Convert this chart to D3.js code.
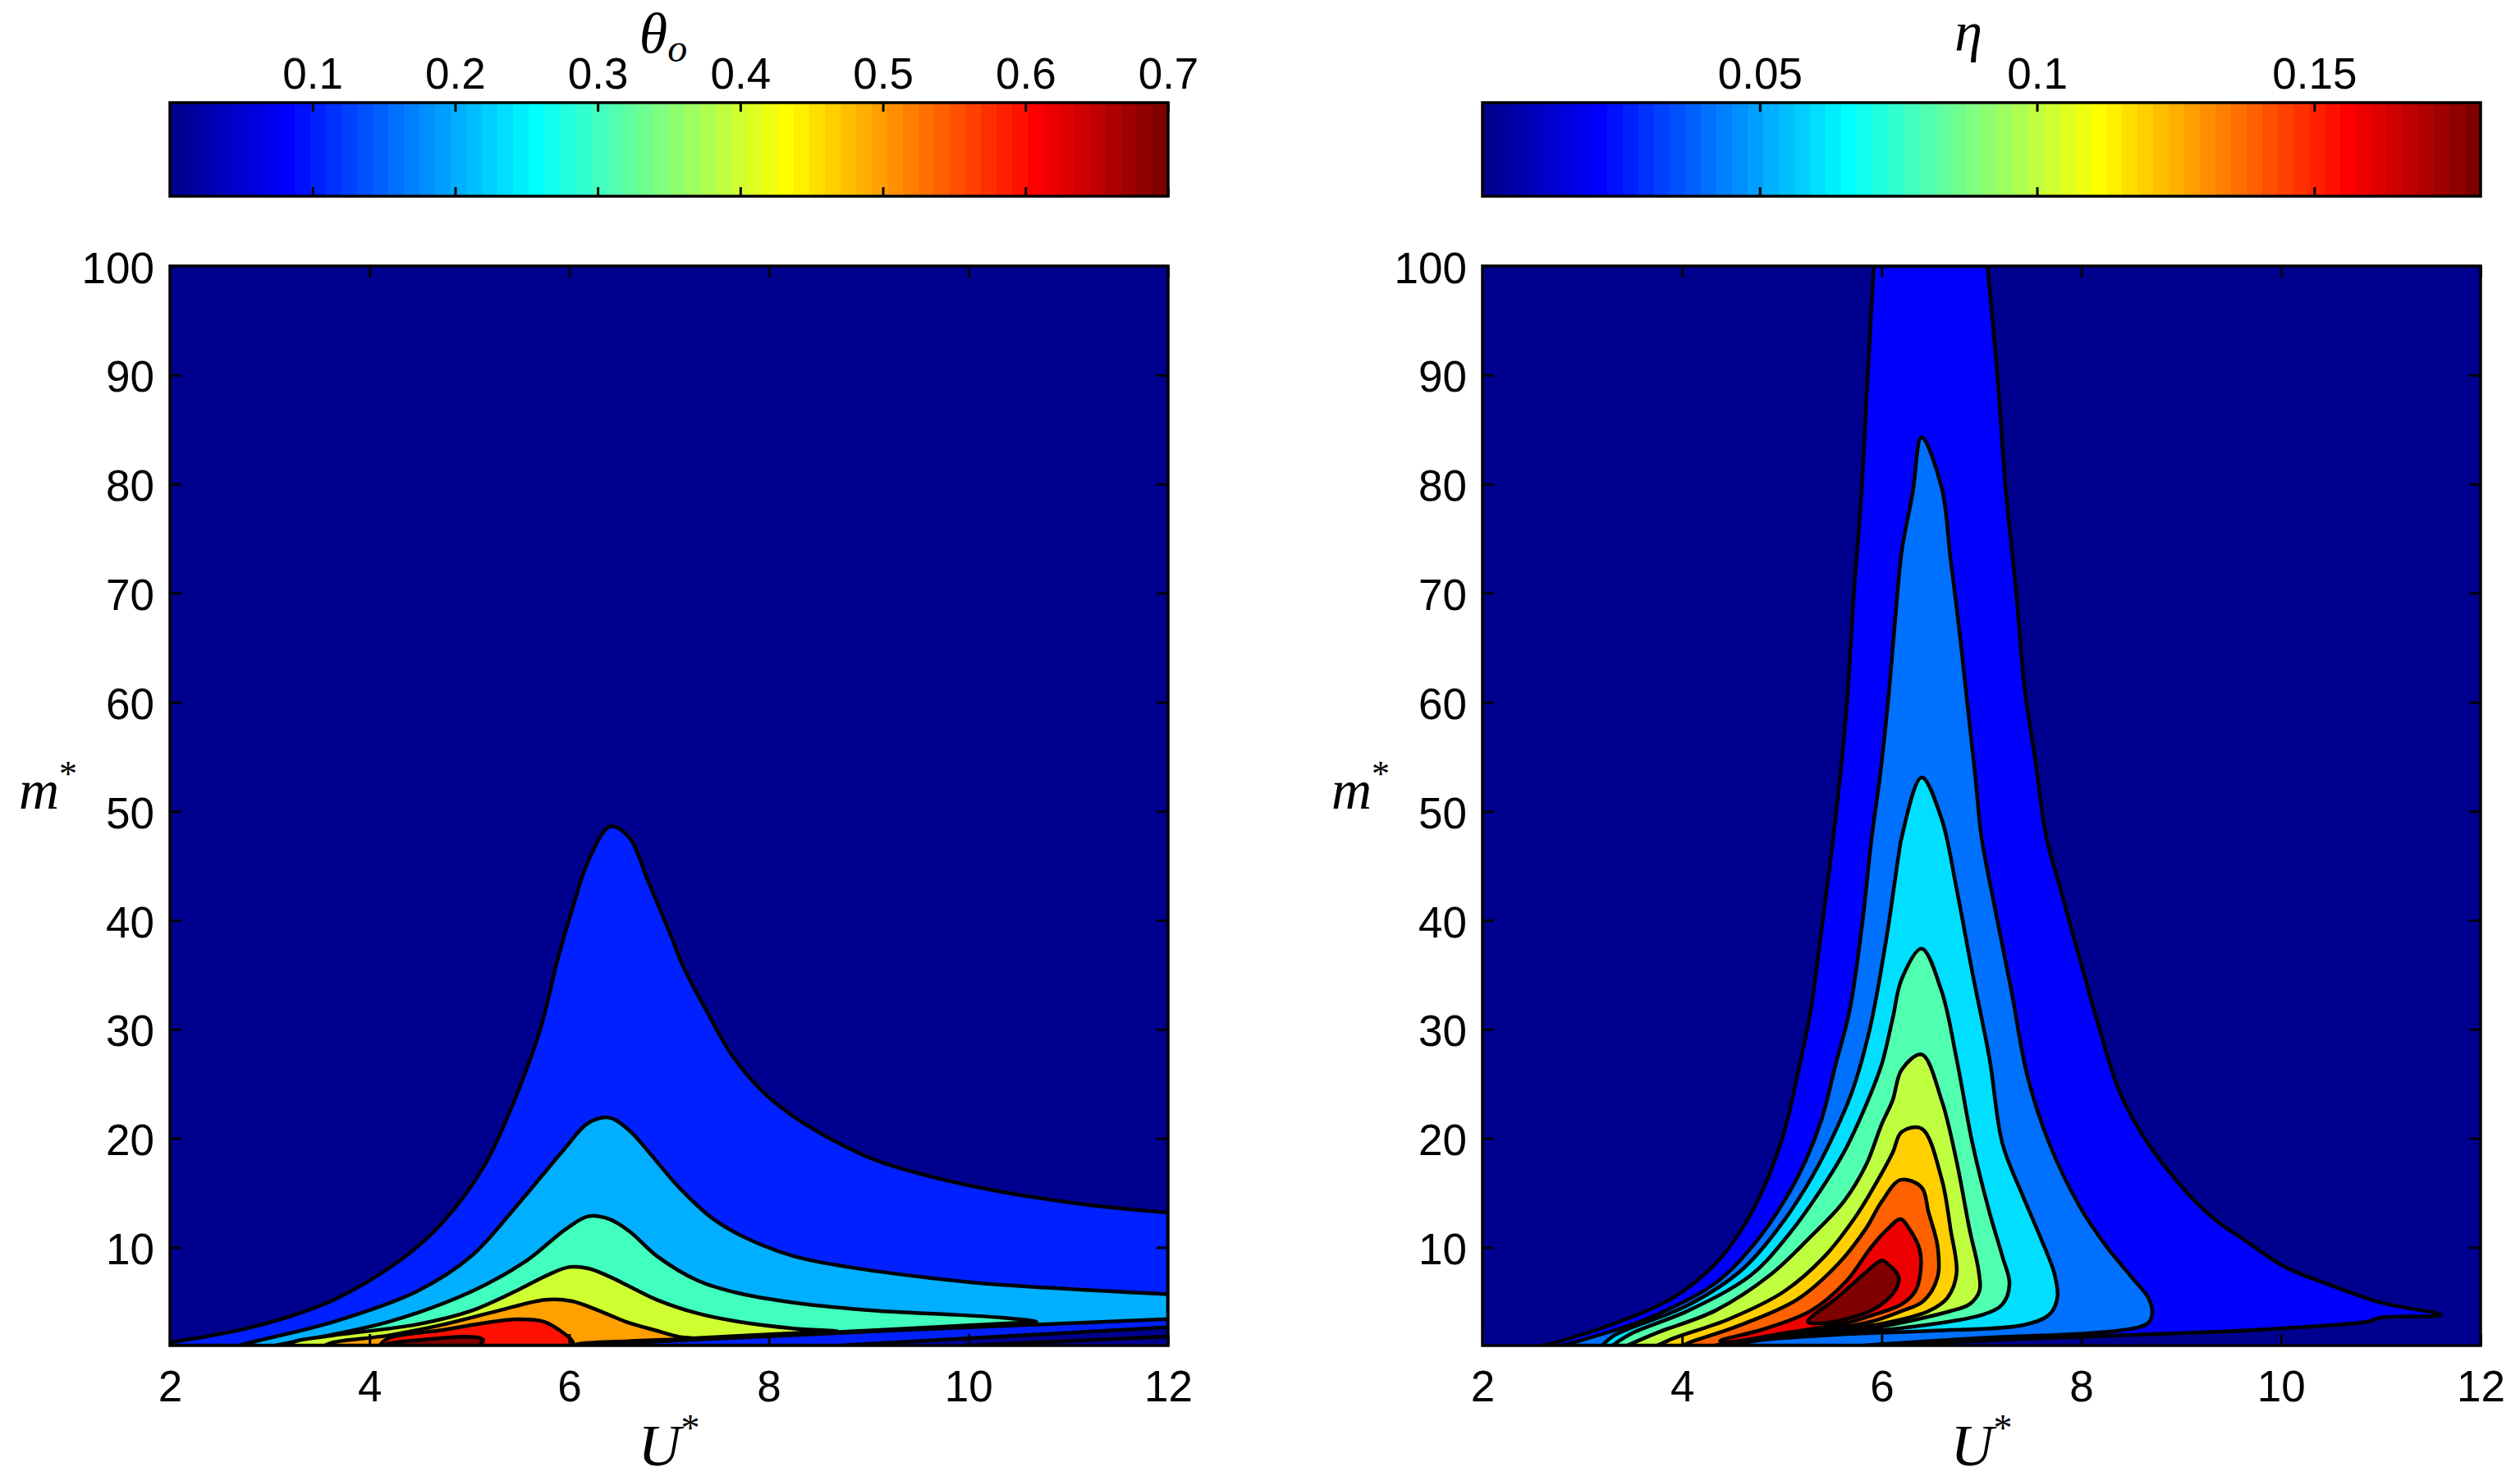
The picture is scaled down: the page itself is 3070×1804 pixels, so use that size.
<!DOCTYPE html>
<html>
<head>
<meta charset="utf-8">
<script src="https://cdn.jsdelivr.net/npm/d3@7"></script>
<style>
  body { margin: 0; background: #fff; }
  svg text { font-family: "Liberation Sans", Arial, sans-serif; }
  .math { font-family: "Liberation Serif", "Times New Roman", serif; font-style: italic; }
</style>
</head>
<body>
<svg id="fig" width="3070" height="1804"></svg>
<script>
// ---- axes / colorbar ticks ----
const xTicks = [2, 4, 6, 8, 10, 12];
const yTicks = [10, 20, 30, 40, 50, 60, 70, 80, 90, 100];
const thetaBarTicks = [0.1, 0.2, 0.3, 0.4, 0.5, 0.6, 0.7];
const etaBarTicks = [0.05, 0.1, 0.15];

// ---- contour levels ----
const thetaLevels = [0.1, 0.2, 0.3, 0.4, 0.5, 0.6, 0.7];
const etaLevels = [0.02, 0.04, 0.06, 0.08, 0.1, 0.12, 0.14, 0.16, 0.18];

// ---- theta_o contour regions [U*, m*] ----
const theta01 = [[2.0,1.0],[2.0,1.3],[2.82,2.68],[3.64,5.19],[4.33,8.98],[4.74,12.37],[5.15,17.5],[5.43,23.0],[5.71,30.0],[5.89,36.6],[6.05,41.6],[6.19,45.4],[6.41,48.6],[6.60,47.6],[6.79,43.6],[7.01,38.8],[7.15,35.6],[7.37,31.8],[7.64,27.5],[7.97,24.0],[8.25,22.0],[8.66,19.75],[9.07,18.0],[9.62,16.5],[10.33,15.1],[11.2,13.9],[12.0,13.2],[12.0,2.68],[8.7,1.0]];
const theta02 = [[2.7,1.0],[2.77,1.2],[3.64,3.18],[4.47,5.95],[5.02,9.2],[5.51,14.2],[5.95,19.0],[6.19,21.4],[6.40,21.9],[6.60,20.75],[6.82,18.5],[7.10,15.5],[7.43,12.7],[7.75,10.96],[8.25,9.2],[8.80,8.2],[9.62,7.2],[10.33,6.57],[12.0,5.7],[12.0,3.43],[6.2,1.1],[6.1,1.0]];
const theta03 = [[3.05,1.0],[3.15,1.17],[4.19,3.18],[5.02,5.95],[5.56,8.7],[5.97,11.7],[6.19,12.85],[6.40,12.6],[6.60,11.5],[6.88,9.2],[7.29,6.95],[7.70,5.8],[8.25,4.94],[9.07,4.2],[9.7,3.9],[10.33,3.56],[10.68,3.18],[10.3,3.0],[8.5,2.15],[6.2,1.08],[6.1,1.0]];
const theta04 = [[3.2,1.0],[3.23,1.3],[3.64,1.93],[4.47,2.93],[5.02,4.19],[5.51,6.2],[5.78,7.45],[6.0,8.2],[6.19,8.08],[6.41,7.3],[6.6,6.44],[6.88,5.19],[7.29,3.94],[7.70,3.18],[8.25,2.56],[8.69,2.3],[8.4,2.2],[7.3,1.7],[6.2,1.12],[6.1,1.0]];
const theta05 = [[3.55,1.0],[3.64,1.3],[4.19,1.93],[4.74,2.93],[5.29,4.19],[5.76,5.2],[6.03,5.07],[6.30,4.19],[6.57,3.18],[6.85,2.43],[7.10,1.8],[7.23,1.68],[6.6,1.4],[6.1,1.15],[6.05,1.0]];
const theta06 = [[4.1,1.0],[4.19,1.68],[4.74,2.43],[5.1,3.0],[5.48,3.4],[5.75,3.18],[5.92,2.3],[6.02,1.55],[6.05,1.0]];
const theta07 = [[4.15,1.0],[4.19,1.17],[4.5,1.5],[4.96,1.8],[5.1,1.7],[5.14,1.5],[5.12,1.2],[5.1,1.0]];
const thetaExtraLine = [[12.0,1.83],[10.0,1.0]];

// ---- eta contour regions [U*, m*] ----
const eta02 = [[2.6,1.0],[2.69,1.17],[3.37,3.18],[3.92,5.44],[4.33,8.45],[4.6,11.7],[4.82,15.5],[5.02,20.5],[5.18,26.8],[5.29,31.8],[5.4,39.3],[5.54,49.5],[5.65,59.7],[5.72,69.8],[5.79,78.2],[5.86,89.9],[5.92,100],[7.06,100],[7.16,89.9],[7.24,79.8],[7.35,69.8],[7.43,61.4],[7.54,54.6],[7.65,47.6],[7.79,42.9],[7.98,36.6],[8.17,30.4],[8.39,24.1],[8.67,19.5],[9.08,14.8],[9.35,12.47],[9.63,10.7],[10.04,8.2],[10.45,6.7],[11.0,4.94],[11.6,3.81],[11.0,3.56],[10.86,3.18],[9.98,2.56],[9.35,2.26],[7.4,1.6],[6.0,1.0]];
const eta04 = [[2.8,1.0],[2.87,1.17],[3.64,3.43],[4.33,6.7],[4.74,10.5],[5.02,14.2],[5.24,18.0],[5.4,21.8],[5.54,26.8],[5.68,31.8],[5.80,39.3],[5.9,47.6],[5.98,53.0],[6.06,59.7],[6.14,68.1],[6.2,73.8],[6.31,79.2],[6.4,84.3],[6.6,79.7],[6.69,73.1],[6.78,66.4],[6.86,59.7],[6.94,53.0],[7.0,47.6],[7.13,41.3],[7.30,33.5],[7.46,25.7],[7.68,19.5],[7.98,13.8],[8.25,10.1],[8.53,7.0],[8.67,5.4],[8.71,4.0],[8.67,3.07],[8.39,2.39],[7.0,1.7],[5.8,1.0]];
const eta06 = [[3.2,1.0],[3.32,1.93],[4.06,4.7],[4.6,7.95],[4.96,11.7],[5.24,15.5],[5.46,19.2],[5.7,24.2],[5.88,30.0],[6.05,38.5],[6.17,46.0],[6.2,47.6],[6.4,53.1],[6.6,49.3],[6.75,42.9],[6.91,35.1],[7.08,27.3],[7.21,19.5],[7.41,14.8],[7.6,10.7],[7.73,7.6],[7.76,5.4],[7.68,3.85],[7.43,2.9],[6.5,2.35],[5.65,2.05],[4.8,1.5],[4.5,1.0]];
const eta08 = [[3.3,1.0],[3.51,2.18],[4.06,4.19],[4.69,7.45],[5.07,11.2],[5.37,15.0],[5.62,18.7],[5.84,23.0],[6.0,26.8],[6.11,31.0],[6.2,34.6],[6.4,37.4],[6.6,33.5],[6.75,27.3],[6.91,19.5],[7.08,13.2],[7.21,9.15],[7.28,6.66],[7.21,4.79],[7.02,3.85],[6.2,2.6],[5.65,2.2],[4.8,1.6],[4.45,1.0]];
const eta10 = [[3.45,1.0],[3.75,2.18],[4.33,4.19],[4.88,7.45],[5.29,11.0],[5.62,14.2],[5.84,17.5],[6.0,21.3],[6.11,23.5],[6.2,26.3],[6.4,27.7],[6.6,23.5],[6.75,17.9],[6.88,11.65],[6.97,7.9],[6.98,6.04],[6.88,4.79],[6.69,4.16],[6.0,2.75],[5.65,2.35],[4.8,1.7],[4.4,1.0]];
const eta12 = [[3.75,1.0],[3.92,1.68],[4.47,3.43],[5.02,5.95],[5.43,9.2],[5.73,12.7],[5.95,16.0],[6.11,18.7],[6.2,20.6],[6.4,20.9],[6.6,16.3],[6.69,11.65],[6.75,7.6],[6.66,5.4],[6.47,4.16],[6.0,3.0],[5.65,2.54],[4.8,1.8],[4.36,1.0]];
const eta14 = [[4.0,1.0],[4.08,1.3],[4.6,2.93],[5.15,5.2],[5.56,8.45],[5.84,11.7],[6.0,14.2],[6.19,16.2],[6.4,15.5],[6.47,13.2],[6.56,10.1],[6.56,7.3],[6.42,5.1],[6.2,4.16],[5.9,3.2],[5.65,2.75],[4.8,1.9],[4.33,1.0]];
const eta16 = [[4.38,1.43],[4.79,2.43],[5.29,4.19],[5.65,6.95],[5.89,9.96],[6.06,11.7],[6.19,12.6],[6.28,11.65],[6.38,9.8],[6.39,7.9],[6.34,6.04],[6.2,4.79],[5.93,3.85],[5.65,3.07],[5.0,2.1],[4.45,1.3]];
const eta18 = [[5.26,3.18],[5.56,5.44],[5.84,7.7],[6.0,8.8],[6.06,8.5],[6.17,7.3],[6.15,6.3],[6.03,5.0],[5.87,4.1],[5.65,3.45],[5.43,3.06]];

const thetaShapes = [theta01, theta02, theta03, theta04, theta05, theta06, theta07];
const etaShapes = [eta02, eta04, eta06, eta08, eta10, eta12, eta14, eta16, eta18];

// MATLAB jet(64)
function jet(m) {
  const n = Math.ceil(m / 4);
  const u = [...d3.range(1, n + 1).map(k => k / n), ...d3.range(n - 1).map(() => 1), ...d3.range(n, 0, -1).map(k => k / n)];
  const g0 = Math.ceil(n / 2) - (m % 4 === 1 ? 1 : 0);
  const at = k => (k >= 1 && k <= u.length) ? u[k - 1] : 0;
  return d3.range(1, m + 1).map(i =>
    d3.rgb(at(i - g0 - n) * 255, at(i - g0) * 255, at(i - g0 + n) * 255).formatHex());
}
const jetColors = jet(64);

const svg = d3.select("#fig");
svg.append("rect").attr("width", 3070).attr("height", 1804).attr("fill", "#fff");

const plotTop = 324, plotBottom = 1639;
const cbTop = 125, cbBottom = 239;
const tickFont = 53;

// points lying on the axes box are corners: keep the edge runs straight
const onEdge = d => d[0] <= 2.0001 || d[0] >= 11.9999 || d[1] <= 1.0001 || d[1] >= 99.999;

function regionPath(pts, x, y) {
  const smooth = d3.line().x(d => x(d[0])).y(d => y(d[1])).curve(d3.curveCatmullRom.alpha(0.5));
  const k = pts.findIndex(onEdge);
  if (k < 0) {
    return d3.line().x(d => x(d[0])).y(d => y(d[1])).curve(d3.curveCatmullRomClosed.alpha(0.5))(pts);
  }
  const ring = [...pts.slice(k), ...pts.slice(0, k), pts[k]];
  let d = "", seg = [ring[0]];
  for (let i = 1; i < ring.length; i++) {
    seg.push(ring[i]);
    if (onEdge(ring[i])) {
      const s = smooth(seg);
      d += d ? s.replace(/^M/, "L") : s;
      seg = [ring[i]];
    }
  }
  return d + "Z";
}

function drawPanel(p) {
  const x = d3.scaleLinear().domain([2, 12]).range([p.x0, p.x1]);
  const y = d3.scaleLinear().domain([1, 100]).range([plotBottom, plotTop]);
  const color = d3.scaleQuantize().domain([p.cmin, p.cmax]).range(jetColors);
  const g = svg.append("g");

  // clip to the axes box
  g.append("clipPath").attr("id", p.id + "clip")
    .append("rect").attr("x", p.x0).attr("y", plotTop)
    .attr("width", p.x1 - p.x0).attr("height", plotBottom - plotTop);

  const plot = g.append("g").attr("clip-path", `url(#${p.id}clip)`);
  plot.append("rect").attr("x", p.x0).attr("y", plotTop)
    .attr("width", p.x1 - p.x0).attr("height", plotBottom - plotTop)
    .attr("fill", color(p.cmin));

  const line = d3.line().x(d => x(d[0])).y(d => y(d[1]));

  plot.selectAll("path.region")
    .data(p.levels.map((lv, i) => ({ lv, pts: p.shapes[i] })))
    .join("path")
    .attr("class", "region")
    .attr("d", d => regionPath(d.pts, x, y))
    .attr("fill", d => color(d.lv))
    .attr("stroke", "#000")
    .attr("stroke-width", 4.5)
    .attr("stroke-linejoin", "round");

  (p.extra || []).forEach(l => {
    plot.append("path").attr("d", line(l)).attr("fill", "none")
      .attr("stroke", "#000").attr("stroke-width", 4.5);
  });

  // axes, ticks inside on all four sides
  const styleAxis = sel => {
    sel.select(".domain").remove();
    sel.selectAll(".tick line").attr("stroke-width", 3);
    sel.attr("font-size", tickFont).attr("font-family", "Liberation Sans, Arial, sans-serif");
  };
  g.append("g").attr("transform", `translate(0,${plotBottom})`)
    .call(d3.axisBottom(x).tickValues(xTicks).tickSize(-14).tickFormat(d3.format("d")))
    .call(styleAxis)
    .call(s => s.selectAll("text").attr("y", 68).attr("dy", null));
  g.append("g").attr("transform", `translate(0,${plotTop})`)
    .call(d3.axisTop(x).tickValues(xTicks).tickSize(-14).tickFormat(""))
    .call(styleAxis);
  g.append("g").attr("transform", `translate(${p.x0},0)`)
    .call(d3.axisLeft(y).tickValues(yTicks).tickSize(-14).tickFormat(d3.format("d")))
    .call(styleAxis)
    .call(s => s.selectAll("text").attr("x", -19).attr("dy", "0.38em"));
  g.append("g").attr("transform", `translate(${p.x1},0)`)
    .call(d3.axisRight(y).tickValues(yTicks).tickSize(-14).tickFormat(""))
    .call(styleAxis);

  g.append("rect").attr("x", p.x0).attr("y", plotTop)
    .attr("width", p.x1 - p.x0).attr("height", plotBottom - plotTop)
    .attr("fill", "none").attr("stroke", "#000").attr("stroke-width", 3.5);

  // colorbar
  const cb = d3.scaleLinear().domain([p.cmin, p.cmax]).range([p.x0, p.x1]);
  const band = d3.scaleBand().domain(d3.range(64)).range([p.x0, p.x1]);
  g.append("g").selectAll("rect").data(d3.range(64)).join("rect")
    .attr("x", i => band(i)).attr("y", cbTop)
    .attr("width", band.bandwidth() + 0.6).attr("height", cbBottom - cbTop)
    .attr("fill", i => jetColors[i]);
  g.append("g").attr("transform", `translate(0,${cbTop})`)
    .call(d3.axisTop(cb).tickValues(p.cbTicks).tickSize(-11).tickFormat(d => String(d)))
    .call(styleAxis)
    .call(s => s.selectAll("text").attr("y", -17).attr("dy", null));
  g.append("g").attr("transform", `translate(0,${cbBottom})`)
    .call(d3.axisBottom(cb).tickValues(p.cbTicks).tickSize(-11).tickFormat(""))
    .call(styleAxis);
  g.append("rect").attr("x", p.x0).attr("y", cbTop)
    .attr("width", p.x1 - p.x0).attr("height", cbBottom - cbTop)
    .attr("fill", "none").attr("stroke", "#000").attr("stroke-width", 3.5);

  // labels
  const mid = (p.x0 + p.x1) / 2;
  const ul = g.append("text").attr("class", "math").attr("font-size", 72)
    .attr("x", mid).attr("y", 1785).attr("text-anchor", "middle");
  ul.append("tspan").text("U");
  ul.append("tspan").attr("font-size", 46).attr("dy", -30).attr("font-style", "normal").text("*");

  const ml = g.append("text").attr("class", "math").attr("font-size", 68)
    .attr("x", p.x0 - 184).attr("y", 985);
  ml.append("tspan").text("m");
  ml.append("tspan").attr("font-size", 44).attr("dy", -28).attr("font-style", "normal").text("*");

  const cl = g.append("text").attr("class", "math").attr("font-size", p.labelSize)
    .attr("x", p.labelX).attr("y", p.labelY).attr("text-anchor", "middle");
  cl.append("tspan").text(p.cbLabel);
  if (p.cbSub) cl.append("tspan").attr("font-size", 48).attr("dy", 11).text(p.cbSub);
}

drawPanel({ id: "theta", x0: 207, x1: 1423, cmin: 0, cmax: 0.7,
  levels: thetaLevels, shapes: thetaShapes, extra: [thetaExtraLine],
  cbTicks: thetaBarTicks, cbLabel: "θ", cbSub: "o", labelX: 808, labelY: 64, labelSize: 70 });

drawPanel({ id: "eta", x0: 1806, x1: 3022, cmin: 0, cmax: 0.18,
  levels: etaLevels, shapes: etaShapes,
  cbTicks: etaBarTicks, cbLabel: "η", labelX: 2398, labelY: 62, labelSize: 68 });
</script>
</body>
</html>
